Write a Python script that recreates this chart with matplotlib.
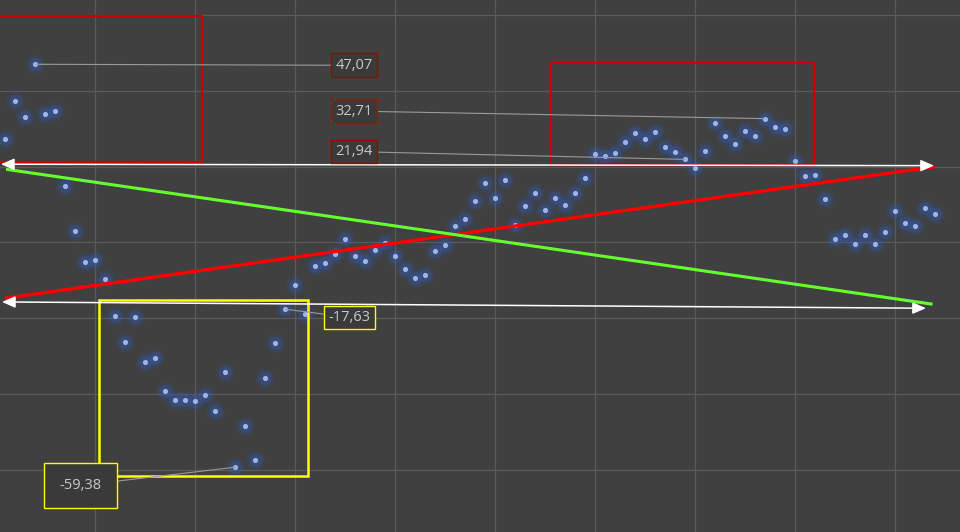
import matplotlib
matplotlib.use("Agg")
import matplotlib.pyplot as plt
from matplotlib.patches import Rectangle
import numpy as np

# Series values (index 1..94)
values = [
    27.26, 37.30, 33.07, 47.07, 33.86, 34.65, 14.84, 2.96, -5.23, -4.70,
    -9.72, -19.49, -26.36, -19.76, -31.64, -30.59, -39.30, -41.68, -41.68, -41.94,
    -40.36, -44.59, -34.28, -59.38, -48.55, -57.53, -35.87, -26.62, -17.63, -11.30,
    -18.96, -6.29, -5.49, -3.12, 0.85, -3.64, -4.97, -2.06, -0.13, -3.64,
    -7.08, -9.46, -8.66, -2.32, -0.74, 4.28, 6.13, 10.88, 15.64, 11.67,
    16.43, 4.54, 9.56, 13.00, 8.50, 11.67, 9.83, 13.00, 16.96, 23.30,
    22.77, 23.56, 26.47, 28.84, 27.26, 29.11, 25.15, 23.82, 21.94, 19.60,
    24.09, 31.48, 28.05, 25.94, 29.37, 28.05, 32.71, 30.43, 29.90, 21.50,
    17.49, 17.75, 11.41, 0.85, 1.90, -0.48, 1.90, -0.48, 2.69, 8.24,
    5.07, 4.28, 9.03, 7.45,
]
index = np.arange(1, len(values) + 1)

# Labelled points: (index, label text, label x, label y, border colour, pad)
labels = [
    (4, "47,07", 35.9, 46.8, "#a80000", 0.3),
    (77, "32,71", 35.9, 34.7, "#c80000", 0.3),
    (69, "21,94", 35.9, 24.0, "#a80000", 0.3),
    (29, "-17,63", 35.4, -19.8, "#ffff00", 0.3),
    (24, "-59,38", 8.5, -64.2, "#ffff00", 1.05),
]

# Trend lines (x0, y0, x1, y1)
red_line = [0.95, -14.74, 94.04, 20.02]
green_line = [1.05, 19.33, 93.8, -16.32]
white_top = [0.55, 20.66, 93.94, 20.29]
white_bottom = [0.65, -15.72, 93.14, -17.38]

# Highlight boxes (x0, y0, x1, y1)
red_boxes = [[-1.0, 21.2, 20.7, 59.8], [55.6, 20.5, 81.9, 47.5]]
yellow_boxes = [[10.36, -61.6, 31.3, -15.2]]

bg = "#404040"
fig = plt.figure(figsize=(9.6, 5.32), dpi=100, facecolor=bg)
ax = fig.add_axes([0, 0, 1, 1])
ax.set_facecolor(bg)
ax.set_xlim(0.45, 96.55)
ax.set_ylim(-76.5, 64.05)

# grid
ax.set_xticks(np.arange(10, 100, 10))
ax.set_yticks(np.arange(-60, 80, 20))
ax.grid(True, color="#5a5a5a", linewidth=0.9)
ax.tick_params(length=0, labelbottom=False, labelleft=False)
for s in ax.spines.values():
    s.set_visible(False)

# points with glow
ax.scatter(index, values, s=190, color="#2d55b0", alpha=0.16, lw=0, zorder=2)
ax.scatter(index, values, s=90, color="#3760c0", alpha=0.3, lw=0, zorder=2)
ax.scatter(index, values, s=14, color="#9db3ea", lw=0, zorder=3)

# boxes
for x0, y0, x1, y1 in red_boxes:
    ax.add_patch(Rectangle((x0, y0), x1 - x0, y1 - y0, fill=False,
                           edgecolor="#cc0000", linewidth=1.6, zorder=4))
for x0, y0, x1, y1 in yellow_boxes:
    ax.add_patch(Rectangle((x0, y0), x1 - x0, y1 - y0, fill=False,
                           edgecolor="#ffff00", linewidth=1.8, zorder=4))

# trend lines
ax.plot(red_line[0::2], red_line[1::2], color="#ff0000", linewidth=2.4,
        solid_capstyle="butt", zorder=5)
ax.plot(green_line[0::2], green_line[1::2], color="#66ff2e", linewidth=2.2,
        solid_capstyle="butt", zorder=5)
for seg in [white_top, white_bottom]:
    ax.annotate("", xy=(seg[2], seg[3]), xytext=(seg[0], seg[1]),
                arrowprops=dict(arrowstyle="<|-|>,head_length=0.8,head_width=0.35",
                                color="white", lw=1.1, mutation_scale=10,
                                shrinkA=0, shrinkB=0), zorder=6)

# value labels with leader lines
for i, text, lx, ly, ec, pad in labels:
    ax.annotate(text, xy=(i, values[i - 1]), xytext=(lx, ly),
                ha="center", va="center", fontsize=10.5, color="#c8c8c8",
                family=["Open Sans", "DejaVu Sans"],
                bbox=dict(boxstyle=f"square,pad={pad}", facecolor="#3a3a3a",
                          edgecolor=ec, linewidth=1.0),
                arrowprops=dict(arrowstyle="-", color="#9a9a9a", lw=0.8,
                                shrinkA=0, shrinkB=0),
                zorder=7)

fig.savefig("out.png", dpi=100, facecolor=bg)
